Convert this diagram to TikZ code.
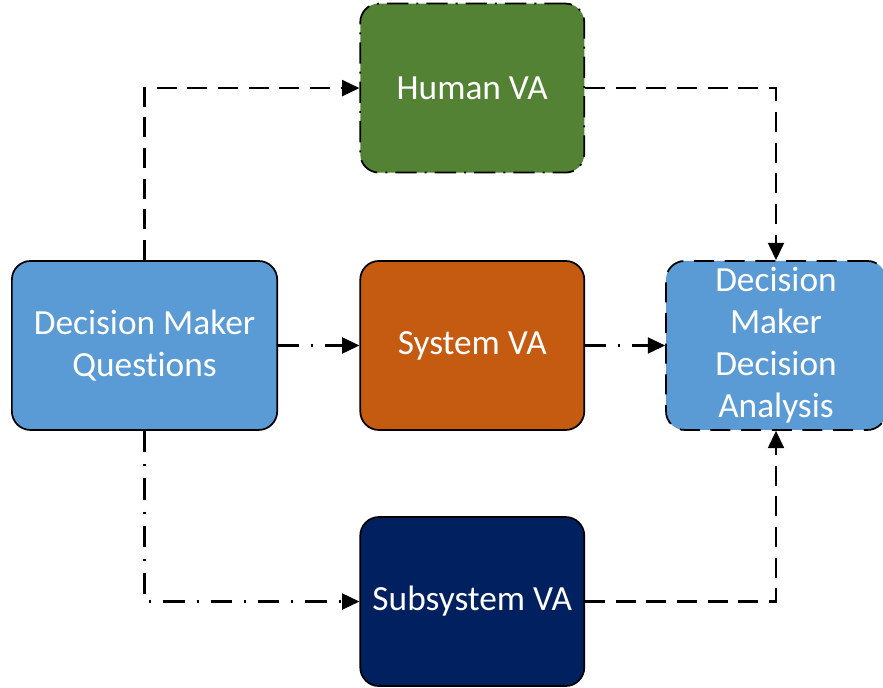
\documentclass[tikz,border=0pt]{standalone}
\usepackage{fontspec}
\setmainfont{Carlito}[Ligatures=NoCommon]
\usetikzlibrary{positioning,arrows.meta}
\usepackage{xcolor}
\definecolor{VAPaleBlue}{RGB}{91,155,213}
\definecolor{VAGreen}{RGB}{84,130,53}
\definecolor{VAOrange}{RGB}{197,90,17}
\definecolor{VANavy}{RGB}{0,32,96}

\begin{document}
\begin{tikzpicture}[
box/.style={rectangle,rounded corners=14pt,draw=black,line width=1.3pt,
minimum width=168pt,minimum height=126.75pt,align=center,text=white,
font=\fontsize{26.5}{31.5}\selectfont},
dashline/.style={line width=1.7pt,dash pattern=on 15pt off 8pt},
dotline/.style={line width=1.7pt,dash pattern=on 16pt off 9pt on 1.5pt off 9pt},
arrow/.style={-{Triangle[length=13pt,width=12pt]}}
]
\useasboundingbox (0,0) rectangle (662.25pt,-515.25pt);
\node[box,fill=VAPaleBlue,minimum width=199pt] (q) at (108.4pt,-259.1pt) {Decision Maker\\Questions};
\node[box,fill=VAOrange,right=61pt of q] (sys) {System VA};
\node[box,fill=VAGreen,above=65pt of sys,dash pattern=on 16pt off 6pt on 1.5pt off 6pt] (hum) {Human VA};
\node[box,fill=VANavy,below=64pt of sys] (sub) {Subsystem VA};
\node[box,fill=VAPaleBlue,right=60pt of sys,minimum width=165pt,dash pattern=on 15pt off 8pt] (dec) {Decision\\Maker\\Decision\\Analysis};
% flows into and out of the three VA boxes
\draw[dashline,arrow] (q.north) |- (hum.west);
\draw[dotline,arrow] (q.east) -- (sys.west);
\draw[dotline,arrow] (q.south) |- (sub.west);
\draw[dashline,arrow] (hum.east) -| (dec.north);
\draw[dotline,arrow] (sys.east) -- (dec.west);
\draw[dashline,arrow] (sub.east) -| (dec.south);
\end{tikzpicture}
\end{document}
